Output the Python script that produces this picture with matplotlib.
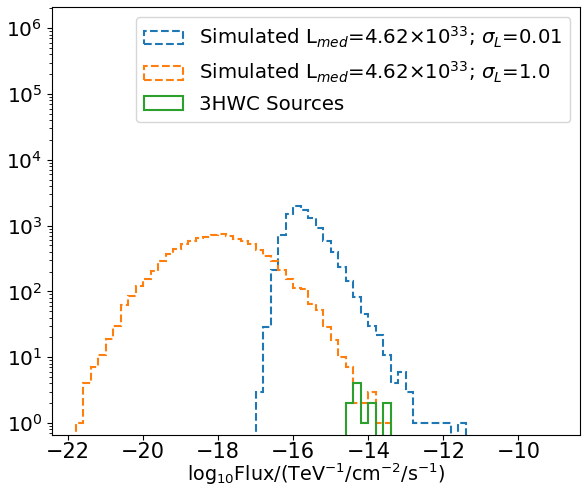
"""Flux distribution of simulated sources vs 3HWC sources."""
import matplotlib
matplotlib.use('Agg')
import matplotlib.pyplot as plt
import numpy as np

BIN_WIDTH = 0.2

# simulated, sigma_L = 0.01 (first bin starts at -17.0)
blue_start = -17.0
blue_counts = [3, 29, 213, 716, 1520, 1990, 1740, 1320, 912, 590, 392, 238,
               146, 82, 46, 30, 22, 11, 4, 6, 3, 1, 1, 1, 1, 1, 0, 1]

# simulated, sigma_L = 1.0 (first bin starts at -21.8)
orange_start = -21.8
orange_counts = [1, 4, 7, 11, 19, 30, 63, 84, 123, 155, 208, 290, 375, 440,
                 535, 575, 638, 675, 720, 750, 690, 623, 590, 525, 430, 350,
                 293, 213, 155, 113, 109, 65, 53, 29, 18, 10, 7, 2, 2, 3, 1, 1]

# 3HWC sources (first bin starts at -14.6)
green_start = -14.6
green_counts = [2, 4, 1, 2, 0, 2]

labels = [
    r'Simulated L$_{med}$=4.62$\times$10$^{33}$; $\sigma_L$=0.01',
    r'Simulated L$_{med}$=4.62$\times$10$^{33}$; $\sigma_L$=1.0',
    '3HWC Sources',
]


def edges_for(start, counts):
    return np.round(start + BIN_WIDTH * np.arange(len(counts) + 1), 2)


plt.rcParams['font.size'] = 14.5

fig = plt.figure(figsize=(5.87, 4.86), dpi=100)
ax = fig.add_axes([0.0886, 0.1050, 0.9000, 0.8806])

series = [
    (blue_start, blue_counts, 'C0', '--'),
    (orange_start, orange_counts, 'C1', '--'),
    (green_start, green_counts, 'C2', '-'),
]
for (start, counts, color, ls), label in zip(series, labels):
    edges = edges_for(start, counts)
    centers = edges[:-1] + BIN_WIDTH / 2
    ax.hist(centers, bins=edges, weights=counts, histtype='step', log=True,
            color=color, linestyle=ls, linewidth=1.5, label=label)

ax.set_xlim(-22.43, -8.35)
ax.set_ylim(0.66, 2.1e6)
ax.set_xticks(np.arange(-22, -9, 2))
ax.set_yticks([10.0 ** k for k in range(7)])
ax.tick_params(axis='x', labelsize=15, pad=1.5)
ax.tick_params(axis='y', labelsize=14.5)
ax.set_xlabel(r'log$_{10}$Flux/(TeV$^{-1}$/cm$^{-2}$/s$^{-1}$)',
              fontsize=13.8, labelpad=0)
ax.legend(loc='upper right', fontsize=14.2)

fig.savefig('out.png', dpi=100)
